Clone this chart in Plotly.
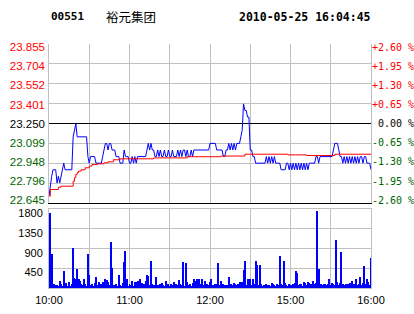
import plotly.graph_objects as go

prev_close = 23.25
price_ticks = [22.645, 22.796, 22.948, 23.099, 23.250, 23.401, 23.552, 23.704, 23.855]
vol_ticks = [450, 900, 1350, 1800]
time_ticks = [0, 30, 60, 90, 120, 150, 180, 210, 240]
time_labels = ["10:00", "", "11:00", "", "12:00", "", "15:00", "", "16:00"]

minutes = list(range(241))
price = [
    22.70, 22.80, 22.85, 22.90, 22.90, 22.90, 22.80, 22.85, 22.80, 22.85,
    22.90, 22.95, 22.90, 22.90, 22.90, 22.90, 22.90, 22.90, 23.15, 23.20,
    23.25, 23.15, 23.15, 23.15, 23.15, 23.15, 23.15, 23.15, 23.15, 23.00,
    22.95, 23.00, 23.00, 23.00, 23.00, 22.95, 22.95, 22.95, 22.95, 22.95,
    23.00, 23.05, 23.10, 23.10, 23.05, 23.10, 23.10, 23.05, 23.05, 23.05,
    23.00, 23.00, 23.00, 22.95, 22.95, 22.95, 23.05, 23.00, 23.00, 23.00,
    22.95, 22.95, 23.00, 22.95, 23.00, 22.95, 23.00, 23.00, 23.00, 23.00,
    23.00, 23.00, 23.00, 23.05, 23.10, 23.05, 23.10, 23.05, 23.05, 23.00,
    23.00, 23.05, 23.00, 23.05, 23.00, 23.00, 23.05, 23.00, 23.00, 23.05,
    23.00, 23.00, 23.05, 23.00, 23.00, 23.00, 23.05, 23.00, 23.05, 23.00,
    23.05, 23.05, 23.00, 23.05, 23.00, 23.00, 23.05, 23.00, 23.05, 23.05,
    23.05, 23.05, 23.05, 23.05, 23.05, 23.05, 23.05, 23.05, 23.05, 23.05,
    23.10, 23.10, 23.10, 23.10, 23.10, 23.05, 23.05, 23.05, 23.05, 23.05,
    23.00, 23.00, 23.05, 23.05, 23.10, 23.05, 23.10, 23.05, 23.10, 23.05,
    23.10, 23.10, 23.10, 23.15, 23.20, 23.40, 23.35, 23.35, 23.30, 23.30,
    23.05, 23.05, 23.00, 23.00, 22.95, 22.95, 22.95, 22.95, 22.95, 22.95,
    22.95, 22.95, 23.00, 22.95, 23.00, 22.95, 23.00, 22.95, 23.00, 22.95,
    22.95, 22.95, 22.95, 22.90, 22.90, 22.90, 22.90, 22.95, 22.95, 22.90,
    22.95, 22.90, 22.95, 22.90, 22.95, 22.90, 22.95, 22.90, 22.95, 22.90,
    22.95, 22.90, 22.95, 22.90, 22.95, 22.95, 22.95, 22.95, 22.95, 23.00,
    23.00, 22.95, 23.00, 23.00, 23.00, 23.00, 23.00, 23.00, 23.00, 23.00,
    23.00, 23.00, 23.05, 23.10, 23.10, 23.10, 23.05, 23.00, 23.00, 22.95,
    23.00, 22.95, 23.00, 22.95, 23.00, 22.95, 23.00, 22.95, 23.00, 22.95,
    23.00, 22.95, 23.00, 23.00, 22.95, 23.00, 23.00, 22.95, 22.95, 22.95,
    22.90,
]

avg_t = [0, 1, 7, 9, 18, 19, 20, 21, 22, 24, 27, 30, 32, 36, 41, 44, 48, 53,
         78, 103, 128, 146, 178, 192, 213, 240]
avg_v = [22.70, 22.75, 22.768, 22.775, 22.813, 22.84, 22.864, 22.878, 22.89,
         22.90, 22.915, 22.928, 22.94, 22.945, 22.953, 22.96, 22.976, 22.983,
         22.99, 22.999, 23.004, 23.018, 23.013, 23.008, 23.018, 23.018]

vol_t = list(range(1, 241))
volume = [
    1700, 760, 40, 80, 60, 70, 30, 150, 90, 40,
    380, 60, 100, 40, 120, 50, 80, 900, 220, 210,
    420, 190, 150, 80, 60, 210, 90, 40, 780, 280,
    60, 90, 40, 100, 250, 60, 130, 50, 80, 140,
    60, 210, 170, 130, 60, 1040, 440, 70, 60, 80,
    40, 300, 60, 30, 100, 585, 850, 190, 40, 80,
    60, 150, 50, 140, 120, 150, 60, 190, 100, 76,
    90, 150, 300, 265, 60, 620, 80, 60, 40, 240,
    60, 30, 80, 100, 60, 40, 150, 60, 80, 40,
    90, 60, 120, 40, 80, 60, 170, 90, 60, 585,
    40, 560, 130, 60, 80, 40, 100, 190, 150, 200,
    60, 190, 80, 210, 60, 150, 40, 80, 60, 120,
    210, 60, 40, 80, 90, 555, 60, 150, 40, 80,
    60, 40, 70, 250, 50, 90, 60, 110, 80, 60,
    90, 130, 60, 140, 395, 610, 60, 200, 100, 190,
    60, 190, 80, 620, 510, 60, 530, 80, 40, 60,
    30, 80, 60, 60, 50, 100, 80, 60, 40, 90,
    60, 715, 80, 60, 610, 100, 60, 40, 80, 60,
    60, 80, 100, 380, 330, 60, 80, 90, 40, 120,
    100, 60, 140, 110, 80, 60, 150, 90, 100, 1765,
    420, 60, 80, 60, 80, 90, 60, 80, 190, 60,
    100, 80, 60, 1100, 130, 60, 100, 815, 80, 60,
    90, 40, 80, 100, 60, 150, 80, 60, 190, 60,
    80, 240, 60, 100, 490, 80, 190, 120, 60, 670,
]

RED = "#ff0000"
GREEN = "#006400"
BLACK = "#000000"
GRID = "#c0c0c0"

# tick labels in the original sit slightly inside the outer grid lines
LABEL_SPREAD = 153.0 / 159.0


def col(v, ref):
    if abs(v - ref) < 1e-9:
        return BLACK
    return RED if v > ref else GREEN


left_text = ['<span style="color:%s">%.3f</span>' % (col(p, prev_close), p) for p in price_ticks]
pct_vals = [(p - prev_close) / prev_close * 100 for p in price_ticks]
right_text = []
for v in pct_vals:
    r = round(v, 2)
    if abs(r) < 1e-9:
        s = "\u00a00.00 %"
    else:
        s = "%+.2f %%" % r
    right_text.append('<span style="color:%s">%s</span>' % (col(r, 0.0), s))

p_half = (price_ticks[-1] - price_ticks[0]) / 2 / LABEL_SPREAD
p_mid = (price_ticks[-1] + price_ticks[0]) / 2
label_range = [p_mid - p_half, p_mid + p_half]
pct_half = (pct_vals[-1] - pct_vals[0]) / 2 / LABEL_SPREAD
pct_range = [-pct_half, pct_half]

fig = go.Figure()
fig.add_trace(go.Scatter(x=minutes, y=price, mode="lines",
                         line=dict(color="#0000ff", width=1),
                         xaxis="x", yaxis="y", hoverinfo="skip"))
fig.add_trace(go.Scatter(x=avg_t, y=avg_v, mode="lines",
                         line=dict(color=RED, width=1, shape="hv"),
                         xaxis="x", yaxis="y", hoverinfo="skip"))
# invisible carriers for the label axes
fig.add_trace(go.Scatter(x=[minutes[0], minutes[-1]], y=[0, 0], mode="lines",
                         line=dict(color="rgba(0,0,0,0)", width=0),
                         xaxis="x", yaxis="y3", hoverinfo="skip"))
fig.add_trace(go.Scatter(x=[minutes[0], minutes[-1]], y=[prev_close, prev_close], mode="lines",
                         line=dict(color="rgba(0,0,0,0)", width=0),
                         xaxis="x", yaxis="y4", hoverinfo="skip"))
fig.add_trace(go.Bar(x=vol_t, y=volume, width=0.75,
                     marker=dict(color="#0000ff", line=dict(width=0)),
                     xaxis="x2", yaxis="y2", hoverinfo="skip"))

font_sans = "Liberation Sans, Arial, sans-serif"

fig.update_layout(
    width=414, height=314,
    margin=dict(l=49, r=43, t=44, b=26, autoexpand=False),
    paper_bgcolor="white", plot_bgcolor="white",
    showlegend=False,
    bargap=0,
    xaxis=dict(domain=[0, 1], anchor="y", range=[0, 240], automargin=False,
               tickvals=time_ticks, showticklabels=False, ticks="",
               showgrid=True, gridcolor=GRID, gridwidth=1,
               showline=True, linecolor=BLACK, linewidth=1, mirror=False,
               zeroline=False),
    yaxis=dict(domain=[0.347, 1], anchor="x", range=[price_ticks[0], price_ticks[-1]],
               automargin=False,
               tickvals=price_ticks, showticklabels=False, ticks="",
               showgrid=True, gridcolor=GRID, gridwidth=1,
               showline=True, linecolor=GRID, linewidth=1, mirror=True,
               zeroline=False),
    yaxis4=dict(overlaying="y", side="left", anchor="x", range=label_range,
                automargin=False,
                tickvals=price_ticks, ticktext=left_text, ticks="",
                ticklabelstandoff=3,
                tickfont=dict(family=font_sans, size=11.5),
                showgrid=False, showline=False, zeroline=False),
    yaxis3=dict(overlaying="y", side="right", anchor="x", range=pct_range,
                automargin=False,
                tickvals=pct_vals, ticktext=right_text, ticks="",
                tickfont=dict(family="DejaVu Sans Mono, monospace", size=10),
                showgrid=False, showline=False,
                zeroline=True, zerolinecolor=BLACK, zerolinewidth=1),
    xaxis2=dict(domain=[0, 1], anchor="y2", range=[0, 240], automargin=False,
                tickvals=time_ticks, ticktext=time_labels, ticks="",
                ticklabelstandoff=2,
                tickfont=dict(family=font_sans, size=11, color=BLACK),
                showgrid=True, gridcolor=GRID, gridwidth=1,
                showline=True, linecolor=GRID, linewidth=1, mirror=True,
                zeroline=False),
    yaxis2=dict(domain=[0, 0.3225], anchor="x2", range=[0, 1800], automargin=False,
                tickvals=vol_ticks, ticks="",
                ticklabelstandoff=3, ticklabelshift=4,
                tickfont=dict(family=font_sans, size=11, color=BLACK),
                showgrid=True, gridcolor=GRID, gridwidth=1,
                showline=True, linecolor=GRID, linewidth=1, mirror=True,
                zeroline=False),
    annotations=[
        dict(text="<b>00551</b>", xref="paper", yref="paper", x=0.0, y=1.111,
             xanchor="left", yanchor="middle", showarrow=False,
             font=dict(family="DejaVu Sans Mono, monospace", size=11, color=BLACK)),
        dict(text="裕元集团", xref="paper", yref="paper", x=0.171, y=1.111,
             xanchor="left", yanchor="middle", showarrow=False,
             font=dict(family="Noto Sans CJK SC", size=12.5, color=BLACK)),
        dict(text="<b>2010-05-25 16:04:45</b>", xref="paper", yref="paper", x=0.584, y=1.111,
             xanchor="left", yanchor="middle", showarrow=False,
             font=dict(family="DejaVu Sans Mono, monospace", size=11.5, color=BLACK)),
    ],
)

fig.write_html("out.html", config={"displayModeBar": False})
